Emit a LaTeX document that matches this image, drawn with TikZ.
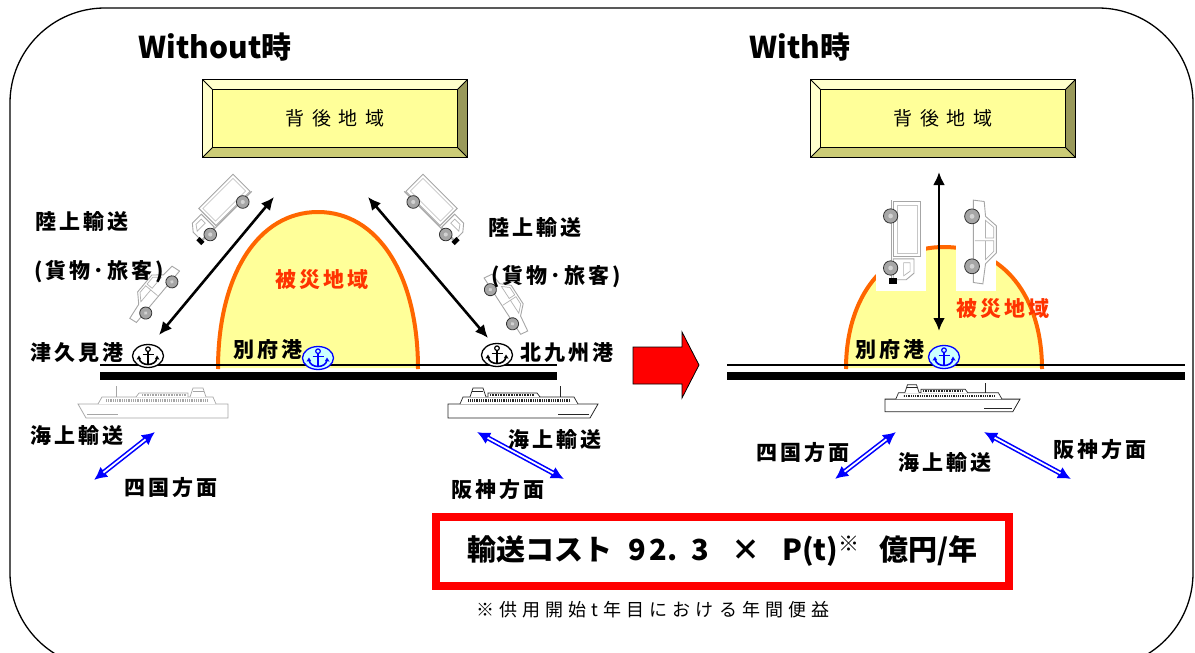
\documentclass[tikz,border=0pt]{standalone}
\usepackage{fontspec}
\newfontfamily\jp{Noto Sans CJK JP}
\newfontfamily\jpsp{Noto Sans CJK JP}[LetterSpace=14]
\newfontfamily\jpbox{Noto Sans CJK JP}[LetterSpace=40]
\newfontfamily\jpnote{Noto Sans CJK JP}[LetterSpace=28]
\usetikzlibrary{arrows.meta, shapes.geometric, calc}

\definecolor{boxface}{HTML}{FFFF99}
\definecolor{bevlight}{HTML}{FFFFCC}
\definecolor{bevdark}{HTML}{99995A}
\definecolor{bevmid}{HTML}{CCCC77}
\definecolor{zonefill}{HTML}{FFFF99}
\definecolor{zoneline}{HTML}{FF6600}
\definecolor{zonetext}{HTML}{FF3300}
\definecolor{seablue}{HTML}{0000FF}
\definecolor{anchorfill}{HTML}{CCFFFF}
\definecolor{costred}{HTML}{FF0000}

% bevelled yellow panel around a named face node
\newcommand\bevelpanel[1]{%
  \fill[bevlight] (#1.north west) -- ++(-10pt,10pt) -- ++(264pt,0pt) -- (#1.north east) -- cycle;
  \fill[bevlight] (#1.north west) -- ++(-10pt,10pt) -- ++(0pt,-77pt) -- (#1.south west) -- cycle;
  \fill[bevdark] (#1.north east) -- ++(10pt,10pt) -- ++(0pt,-77pt) -- (#1.south east) -- cycle;
  \fill[bevmid] (#1.south west) -- ++(-10pt,-10pt) -- ++(264pt,0pt) -- (#1.south east) -- cycle;
  \draw[line width=1.2pt] ($(#1.north west)+(-10pt,10pt)$) rectangle ($(#1.south east)+(10pt,-10pt)$);
  \draw[line width=0.8pt] (#1.north west) -- ++(-10pt,10pt) (#1.north east) -- ++(10pt,10pt)
        (#1.south west) -- ++(-10pt,-10pt) (#1.south east) -- ++(10pt,-10pt);
  \draw[line width=0.8pt] (#1.north west) rectangle (#1.south east);
}

\tikzset{
  face/.style={fill=boxface, minimum width=244pt, minimum height=57pt, inner sep=0pt,
               font=\jpbox\fontsize{19}{19}\selectfont},
  title/.style={font=\jp\bfseries\fontsize{30}{30}\selectfont, inner sep=0pt},
  lbl/.style={font=\jpsp\bfseries\fontsize{21}{21}\selectfont, inner sep=0pt},
  zonelbl/.style={lbl, text=zonetext},
  anchorring/.style={ellipse, minimum width=31pt, minimum height=23pt, inner sep=0pt, line width=1.3pt},
  landarrow/.style={line width=2.6pt, {Latex[length=13pt,width=12pt]}-{Latex[length=13pt,width=12pt]}},
  seaarrow/.style={seablue, line width=5pt, {Latex[length=13pt,width=13pt]}-{Latex[length=13pt,width=13pt]}},
  seacore/.style={white, line width=1.8pt, shorten <=12pt, shorten >=12pt},
  vehline/.style={draw=gray!70, line width=0.9pt, fill=white},
  wheel/.style={fill=gray!70, draw=gray!40!black, line width=0.8pt},
  anchorsym/.pic={
    \draw[line width=1.2pt] (0,-6.8) circle[radius=2.3pt];
    \draw[line width=1.8pt] (0,-4.5) -- (0,8);
    \draw[line width=1.5pt] (-5.5,-1.5) -- (5.5,-1.5);
    \draw[line width=1.6pt] (-9,1.5) .. controls (-8.5,6.5) and (-4,8.5) .. (0,8.5) .. controls (4,8.5) and (8.5,6.5) .. (9,1.5);
    \fill (-9,-0.5) -- (-11.5,3.5) -- (-7,3) -- cycle;
    \fill (9,-0.5) -- (11.5,3.5) -- (7,3) -- cycle;
  },
  truck/.pic={
    \draw[vehline] (-1,-4) rectangle (41,-25);
    \draw[draw=gray!45, line width=0.7pt] (1.5,-7) rectangle (38.5,-22.5);
    \draw[vehline] (-19,-4) -- (-19,-14) -- (-14,-20) -- (-3,-20) -- (-3,-4) -- cycle;
    \draw[draw=gray!60, line width=0.7pt] (-16,-12) -- (-12.5,-17) -- (-6,-17) -- (-6,-12) -- cycle;
    \draw[draw=gray!70, line width=0.9pt] (-20,-3) -- (42,-3);
    \fill[black] (-22,-7) rectangle (-18,-1);
    \filldraw[wheel] (-10,-2) circle[radius=5.5pt];
    \fill[gray!35] (-10,-2) circle[radius=1.8pt];
    \filldraw[wheel] (30,-2) circle[radius=5.5pt];
    \fill[gray!35] (30,-2) circle[radius=1.8pt];
  },
  sedan/.pic={
    \draw[vehline] (-30,-4) -- (-31,-11) -- (-16,-13) -- (-8,-21) -- (12,-21) -- (19,-13) -- (30,-12) -- (31,-4) -- cycle;
    \draw[draw=gray!60, line width=0.7pt] (-13,-13) -- (-7,-19) -- (1,-19) -- (1,-13) -- cycle
          (3,-13) -- (3,-19) -- (11,-19) -- (16,-13) -- cycle (1,-13) -- (1,-5);
    \filldraw[wheel] (-18,-3) circle[radius=5.5pt];
    \fill[gray!35] (-18,-3) circle[radius=1.8pt];
    \filldraw[wheel] (19,-3) circle[radius=5.5pt];
    \fill[gray!35] (19,-3) circle[radius=1.8pt];
  },
  ship/.pic={
    \draw[fill=white, line width=0.8pt] (0,19) -- (150,19) -- (150,33) -- (8,33) -- cycle;
    \draw[line width=0.6pt] (9,29) -- (40,29);
    \draw[fill=white, line width=0.7pt] (20,19) -- (24,12) -- (135,12) -- (138,19);
    \draw[line width=2.4pt, dash pattern=on 0.9pt off 0.9pt] (28,15.6) -- (130,15.6);
    \draw[fill=white, line width=0.7pt] (58,12) -- (61,8) -- (110,8) -- (110,12);
    \draw[line width=1.4pt, dash pattern=on 0.8pt off 0.8pt] (64,10) -- (108,10);
    \draw[fill=white, line width=0.7pt] (112,12) -- (115,3) -- (125,3) -- (128,12);
    \draw[line width=0.7pt] (115,6) -- (126,6);
    \draw[line width=1pt] (38,12) -- (38,1);
  }
}

\begin{document}
\begin{tikzpicture}[x=1pt, y=-1pt]
\useasboundingbox (0,0) rectangle (1195,653);

% outer frame
\draw[line width=1.3pt, rounded corners=95pt] (10,8) rectangle (1193,668);

% titles
\node[title] (ttlWithout) at (215,47) {Without時};
\node[title] (ttlWith) at (800,47) {With時};

% hinterland panels
\node[face] (hinL) at (335,118.5) {背後地域};
\bevelpanel{hinL}
\node[face] (hinR) at (943,118.5) {背後地域};
\bevelpanel{hinR}

% disaster zones (half ellipses)
\fill[zonefill] (218,368) .. controls (218,275) and (258,212) .. (318,212)
      .. controls (378,212) and (418,275) .. (418,368) -- cycle;
\draw[zoneline, line width=4pt] (218,369) .. controls (218,275) and (258,212) .. (318,212)
      .. controls (378,212) and (418,275) .. (418,369);
\fill[zonefill] (846,368) .. controls (846,296) and (885,247) .. (944,247)
      .. controls (1003,247) and (1042,296) .. (1042,368) -- cycle;
\draw[zoneline, line width=4pt] (846,369) .. controls (846,296) and (885,247) .. (944,247)
      .. controls (1003,247) and (1042,296) .. (1042,369);

% vehicles, left scene
\pic[rotate=45, scale=1.15] at (220,228) {truck};
\pic[rotate=50, scale=1.1] at (161,300) {sedan};
\pic[rotate=-45, xscale=-1, scale=1.15] at (436,228) {truck};
\pic[rotate=-57, xscale=-1, scale=1.1] at (499,309) {sedan};

% vehicles, right scene
\fill[white] (876,198) rectangle (926,291);
\fill[white] (956,193) rectangle (996,291);
\pic[rotate=-90, xscale=-1, scale=1.3] at (888,255) {truck};
\pic[rotate=-90, xscale=-1, scale=1.35] at (968,242) {sedan};

% quays
\draw[line width=2pt] (100,365) -- (557,365);
\draw[line width=7.5pt] (100,376) -- (557,376);
\draw[line width=2pt] (727,365) -- (1185,365);
\draw[line width=7.5pt] (727,376) -- (1185,376);

% ports
\node[anchorring, draw=black, fill=white] (pTsuku) at (148,356) {};
\pic[black] at (pTsuku) {anchorsym};
\node[anchorring, draw=seablue, fill=anchorfill] (pBeppuL) at (318,358) {};
\pic[seablue] at (pBeppuL) {anchorsym};
\node[anchorring, draw=black, fill=white] (pKita) at (497,355) {};
\pic[black] at (pKita) {anchorsym};
\node[anchorring, draw=seablue, fill=anchorfill] (pBeppuR) at (944,357) {};
\pic[seablue] at (pBeppuR) {anchorsym};

% land transport arrows
\coordinate (lA1) at (159,335);
\coordinate (lA2) at (274,197);
\coordinate (lB1) at (368,197);
\coordinate (lB2) at (488,338);
\coordinate (lC1) at (939,172);
\coordinate (lC2) at (939,331);
\draw[landarrow] (lA1) -- (lA2);
\draw[landarrow] (lB1) -- (lB2);
\draw[landarrow] (lC1) -- (lC2);

% ships
\pic[color=gray!70] at (78,385) {ship};
\pic[color=black!85, xscale=-1] at (598,385) {ship};
\pic[color=black!85, xscale=-0.9, yscale=0.9] at (1020,382) {ship};

% sea transport arrows
\coordinate (sA1) at (94,480);
\coordinate (sA2) at (155,432);
\coordinate (sB1) at (477,432);
\coordinate (sB2) at (564,479);
\coordinate (sC1) at (835,479);
\coordinate (sC2) at (896,432);
\coordinate (sD1) at (984,432);
\coordinate (sD2) at (1071,479);
\foreach \a/\b in {sA1/sA2, sB1/sB2, sC1/sC2, sD1/sD2} {
  \draw[seaarrow] (\a) -- (\b);
  \draw[seacore] (\a) -- (\b);
}

% labels
\node[lbl] (tRikuL) at (82,222) {陸上輸送};
\node[lbl] (tCargoL) at (99,272) {(貨物･旅客)};
\node[lbl] (tRikuR) at (535,228) {陸上輸送};
\node[lbl] (tCargoR) at (556,277) {(貨物･旅客)};
\node[zonelbl] (tZoneL) at (322,280) {被災地域};
\node[zonelbl] (tZoneR) at (1003,309) {被災地域};
\node[lbl] (tTsuku) at (77,353) {津久見港};
\node[lbl] (tBeppuL) at (268,350) {別府港};
\node[lbl] (tKita) at (567,353) {北九州港};
\node[lbl] (tBeppuR) at (890,350) {別府港};
\node[lbl] (tSeaL) at (77,436) {海上輸送};
\node[lbl] (tShikokuL) at (171,488) {四国方面};
\node[lbl] (tSeaR) at (555,440) {海上輸送};
\node[lbl] (tHanshinL) at (498,490) {阪神方面};
\node[lbl] (tShikokuR) at (803,453) {四国方面};
\node[lbl] (tSeaW) at (945,463) {海上輸送};
\node[lbl] (tHanshinR) at (1100,450) {阪神方面};

% change arrow
\filldraw[fill=red, draw=black, line width=0.8pt]
  (633,347) -- (682,347) -- (682,332) -- (699,365) -- (682,398) -- (682,384) -- (633,384) -- cycle;

% cost result
\node[draw=costred, line width=8pt, minimum width=573pt, minimum height=69pt, inner sep=0pt,
      font=\jp\bfseries\fontsize{29}{29}\selectfont] (cost) at (722.5,551.5)
  {輸送コスト\hspace{16pt}9\hspace{4pt}2.\hspace{14pt}3\hspace{22pt}×\hspace{22pt}P(t)\raisebox{9pt}{\fontsize{21}{21}\selectfont ※}\hspace{20pt}億円/年};
\node[font=\jpnote\fontsize{18}{18}\selectfont, inner sep=0pt] (note) at (653,610)
  {※供用開始t年目における年間便益};
\end{tikzpicture}
\end{document}
